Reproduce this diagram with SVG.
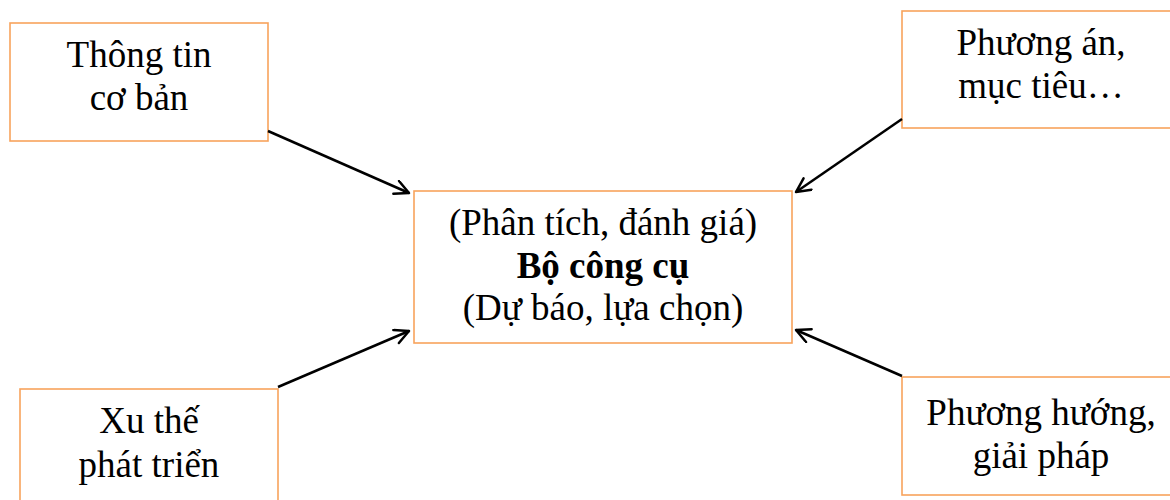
<svg xmlns="http://www.w3.org/2000/svg" width="1170" height="500" viewBox="0 0 1170 500">
<style>
.box{fill:#fff;stroke:#F8A35C;stroke-width:1.6}
.t{font-family:"Liberation Serif","Times New Roman",serif;font-size:37px;fill:#000;text-anchor:middle}
.b{font-weight:bold}
.c{stroke:#000;stroke-width:2.5;fill:none}
</style>
<defs>
<marker id="arr" markerUnits="userSpaceOnUse" markerWidth="20" markerHeight="20" refX="16" refY="8" orient="auto">
<path d="M2,1 L16,8 L2,15" fill="none" stroke="#000" stroke-width="2.5" stroke-linecap="round" stroke-linejoin="round"/>
</marker>
</defs>
<rect width="1170" height="500" fill="#fff"/>
<g id="n-thongtin">
<rect class="box" x="10" y="23" width="258" height="118"/>
<text class="t" x="139" y="67">Thông tin</text>
<text class="t" x="139" y="110">cơ bản</text>
</g>
<g id="n-phuongan">
<rect class="box" x="902" y="11" width="280" height="117"/>
<text class="t" x="1041" y="55">Phương án,</text>
<text class="t" x="1041" y="98">mục tiêu…</text>
</g>
<g id="n-bocongcu">
<rect class="box" x="414" y="191" width="378" height="152"/>
<text class="t" x="603" y="235">(Phân tích, đánh giá)</text>
<text class="t b" x="603" y="278">Bộ công cụ</text>
<text class="t" x="603" y="320">(Dự báo, lựa chọn)</text>
</g>
<g id="n-xuthe">
<rect class="box" x="20" y="389" width="258" height="130"/>
<text class="t" x="149" y="433">Xu thế</text>
<text class="t" x="149" y="477">phát triển</text>
</g>
<g id="n-phuonghuong">
<rect class="box" x="902" y="377" width="280" height="118"/>
<text class="t" x="1041" y="425">Phương hướng,</text>
<text class="t" x="1041" y="468">giải pháp</text>
</g>
<g id="connectors">
<line class="c" x1="268" y1="131" x2="409" y2="193" marker-end="url(#arr)"/>
<line class="c" x1="278" y1="387" x2="409" y2="331" marker-end="url(#arr)"/>
<line class="c" x1="902" y1="119" x2="796" y2="192" marker-end="url(#arr)"/>
<line class="c" x1="902" y1="376" x2="796" y2="330" marker-end="url(#arr)"/>
</g>
</svg>
